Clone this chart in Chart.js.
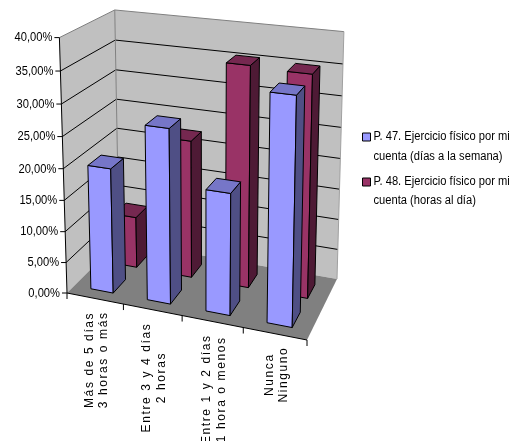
<!DOCTYPE html>
<html>
<head>
<meta charset="utf-8">
<style>html,body{margin:0;padding:0;background:#fff}canvas{display:block}</style>
<script src="https://cdn.jsdelivr.net/npm/chart.js@4"></script>
</head>
<body>
<canvas id="c" width="513" height="441"></canvas>
<script>
// Survey answers, in percent, one value per answer group
const categories = [
  ['Más de 5 días', '3 horas o más'],
  ['Entre 3 y 4 días', '2 horas'],
  ['Entre 1 y 2 días', '1 hora o menos'],
  ['Nunca', 'Ninguno']
];
const diasSemana = [20, 27.5, 19, 34.7];
const horasDia = [8.5, 22.5, 35.5, 35.2];
const legendDias = ['P. 47. Ejercicio físico por mi', 'cuenta (días a la semana)'];
const legendHoras = ['P. 48. Ejercicio físico por mi', 'cuenta (horas al día)'];

const FONT = '"Liberation Sans", Arial, sans-serif';

// Perspective box: floor corners on the page, plus three upper corners
const floorFL = [67, 293], floorFR = [307, 340], floorBR = [337, 279], floorBL = [119, 241];
const upperCorners = [[59, 37], [115, 12], [344, 30]];

function solve3(m, b) {
  const d = (m0, m1, m2) =>
    m0[0] * (m1[1] * m2[2] - m1[2] * m2[1]) -
    m0[1] * (m1[0] * m2[2] - m1[2] * m2[0]) +
    m0[2] * (m1[0] * m2[1] - m1[1] * m2[0]);
  const D = d(m[0], m[1], m[2]);
  return [0, 1, 2].map(k => {
    const n = m.map((row, i) => row.map((val, j) => (j === k ? b[i] : val)));
    return d(n[0], n[1], n[2]) / D;
  });
}

function buildProjector() {
  const [x0, y0] = floorFL, [x1, y1] = floorFR, [x2, y2] = floorBR, [x3, y3] = floorBL;
  const dx1 = x1 - x2, dx2 = x3 - x2, sx = x0 - x1 + x2 - x3;
  const dy1 = y1 - y2, dy2 = y3 - y2, sy = y0 - y1 + y2 - y3;
  const det = dx1 * dy2 - dx2 * dy1;
  const g = (sx * dy2 - dx2 * sy) / det, h = (dx1 * sy - sx * dy1) / det;
  const a = x1 - x0 + g * x1, b = x3 - x0 + h * x3, c = x0;
  const d = y1 - y0 + g * y1, e = y3 - y0 + h * y3, f = y0;
  // least squares fit of the height direction to the upper corners
  const floorAt = [[0, 0], [0, 1], [1, 1]];
  const M = [[0,0,0],[0,0,0],[0,0,0]], R = [0,0,0];
  upperCorners.forEach(([x, y], i) => {
    const [u, w] = floorAt[i];
    const Z = g * u + h * w + 1, X = a * u + b * w + c, Y = d * u + e * w + f;
    [[[1, 0, -x], x * Z - X], [[0, 1, -y], y * Z - Y]].forEach(([row, rhs]) => {
      row.forEach((ri, r1) => {
        row.forEach((rj, r2) => { M[r1][r2] += ri * rj; });
        R[r1] += ri * rhs;
      });
    });
  });
  const [p, q, r] = solve3(M, R);
  return (u, v, w) => {
    const z = g * u + h * w + r * v + 1;
    return [(a * u + b * w + p * v + c) / z, (d * u + e * w + q * v + f) / z];
  };
}
const project = buildProjector();

function poly(ctx, pts, fill, stroke, lw) {
  ctx.beginPath();
  pts.forEach((pt, i) => i ? ctx.lineTo(pt[0], pt[1]) : ctx.moveTo(pt[0], pt[1]));
  ctx.closePath();
  if (fill) { ctx.fillStyle = fill; ctx.fill(); }
  if (stroke) { ctx.strokeStyle = stroke; ctx.lineWidth = lw || 1; ctx.stroke(); }
}
function line(ctx, a, b, color, lw) {
  ctx.beginPath();
  ctx.moveTo(a[0], a[1]);
  ctx.lineTo(b[0], b[1]);
  ctx.strokeStyle = color;
  ctx.lineWidth = lw || 1;
  ctx.stroke();
}

// Depth slot of each series inside the box
const depthSlots = [[0.13, 0.37], [0.60, 0.84]];
const sideColors = ['#4f4f85', '#4e1a35'];
const topColors = ['#7676c8', '#752850'];

const box3d = {
  id: 'box3d',
  beforeDatasetsDraw(chart) {
    const ctx = chart.ctx, ys = chart.scales.y, area = chart.chartArea;
    const vOf = val => (area.bottom - ys.getPixelForValue(val)) / area.height;
    ctx.save();
    // walls and floor
    poly(ctx, [project(0,0,0), project(0,1,0), project(0,1,1), project(0,0,1)], '#c0c0c0');
    poly(ctx, [project(0,0,1), project(0,1,1), project(1,1,1), project(1,0,1)], '#c0c0c0');
    poly(ctx, [project(0,0,0), project(1,0,0), project(1,0,1), project(0,0,1)], '#808080');
    // gridlines on both walls
    ys.ticks.forEach(t => {
      const v = vOf(t.value);
      if (t.value > 0 && t.value < 40) {
        line(ctx, project(0,v,0), project(0,v,1), '#000');
        line(ctx, project(0,v,1), project(1,v,1), '#000');
      }
    });
    // wall edges
    line(ctx, project(0,1,0), project(0,1,1), '#808080');
    line(ctx, project(0,1,1), project(1,1,1), '#808080');
    line(ctx, project(0,0,1), project(0,1,1), '#808080');
    line(ctx, project(1,1,1), project(1,0,1), '#a0a0a0');
    // value axis with ticks and labels
    line(ctx, project(0,0,0), project(0,1,0), '#000');
    ctx.fillStyle = '#000';
    ctx.font = '12px ' + FONT;
    ctx.textAlign = 'right';
    ctx.textBaseline = 'middle';
    ys.ticks.forEach(t => {
      const pt = project(0, vOf(t.value), 0);
      line(ctx, [pt[0] - 5, pt[1]], pt, '#000');
      ctx.save();
      ctx.translate(pt[0] - 7, pt[1] + 0.5);
      ctx.scale(0.93, 1);
      ctx.fillText(t.label, 0, 0);
      ctx.restore();
    });
    // category axis with ticks and rotated two-line labels
    const xs = chart.scales.x;
    line(ctx, project(0,0,0), project(1,0,0), '#000');
    for (let i = 0; i <= categories.length; i++) {
      const pt = project(i / categories.length, 0, 0);
      line(ctx, pt, [pt[0], pt[1] + 6], '#000');
    }
    categories.forEach((lines, i) => {
      const u = (xs.getPixelForTick(i) - area.left) / area.width;
      const pt = project(u, 0, 0);
      ctx.save();
      ctx.font = '12px ' + FONT;
      ctx.letterSpacing = '1.6px';
      const widest = Math.max(...lines.map(s => ctx.measureText(s).width));
      ctx.translate(pt[0] + 2, pt[1] + 13 + widest / 2);
      ctx.rotate(-Math.PI / 2);
      ctx.textAlign = 'center';
      ctx.textBaseline = 'middle';
      ctx.fillStyle = '#000';
      ctx.fillText(lines[0], 0, -7.5);
      ctx.fillText(lines[1], 0, 7);
      ctx.restore();
    });
    ctx.restore();
  },
  // the flat rectangles are replaced by the solid columns below
  beforeDatasetDraw() { return false; },
  afterDatasetsDraw(chart) {
    const ctx = chart.ctx, area = chart.chartArea;
    ctx.save();
    ctx.lineJoin = 'round';
    [1, 0].forEach(ds => {
      const meta = chart.getDatasetMeta(ds);
      const [w0, w1] = depthSlots[ds];
      meta.data.forEach(bar => {
        const half = bar.width / 2;
        const u0 = (bar.x - half - area.left) / area.width;
        const u1 = (bar.x + half - area.left) / area.width;
        const v = (bar.base - bar.y) / area.height;
        poly(ctx, [project(u0,0,w0), project(u1,0,w0), project(u1,v,w0), project(u0,v,w0)],
             chart.data.datasets[ds].backgroundColor, '#000');
        poly(ctx, [project(u1,0,w0), project(u1,0,w1), project(u1,v,w1), project(u1,v,w0)],
             sideColors[ds], '#000');
        poly(ctx, [project(u0,v,w0), project(u1,v,w0), project(u1,v,w1), project(u0,v,w1)],
             topColors[ds], '#000');
      });
    });
    ctx.restore();
  },
  afterDraw(chart) {
    // legend at the right, swatch plus two text lines per series
    const ctx = chart.ctx;
    ctx.save();
    ctx.textAlign = 'left';
    ctx.textBaseline = 'middle';
    ctx.font = '12px ' + FONT;
    const rows = [[legendDias, 137, 156.5], [legendHoras, 182, 201]];
    rows.forEach((row, i) => {
      poly(ctx, [[362.5, row[1] - 4], [370.5, row[1] - 4], [370.5, row[1] + 4], [362.5, row[1] + 4]],
           chart.data.datasets[i].backgroundColor, '#000');
      [row[1], row[2]].forEach((y, j) => {
        ctx.save();
        ctx.translate(373.5, y);
        ctx.scale(0.93, 1);
        ctx.fillStyle = '#000';
        ctx.fillText(row[0][j], 0, 0);
        ctx.restore();
      });
    });
    ctx.restore();
  }
};

new Chart(document.getElementById('c'), {
  type: 'bar',
  data: {
    labels: categories,
    datasets: [
      { label: legendDias.join(' '), data: diasSemana, backgroundColor: '#9999ff', grouped: false, barPercentage: 0.4, categoryPercentage: 1 },
      { label: legendHoras.join(' '), data: horasDia, backgroundColor: '#993366', grouped: false, barPercentage: 0.4, categoryPercentage: 1 }
    ]
  },
  options: {
    responsive: false,
    animation: false,
    layout: { padding: 0 },
    plugins: { legend: { display: false }, tooltip: { enabled: false } },
    scales: {
      x: { display: false },
      y: {
        display: false, min: 0, max: 40,
        ticks: { stepSize: 5, callback: v => v.toFixed(2).replace('.', ',') + '%' }
      }
    }
  },
  plugins: [box3d]
});
</script>
</body>
</html>
